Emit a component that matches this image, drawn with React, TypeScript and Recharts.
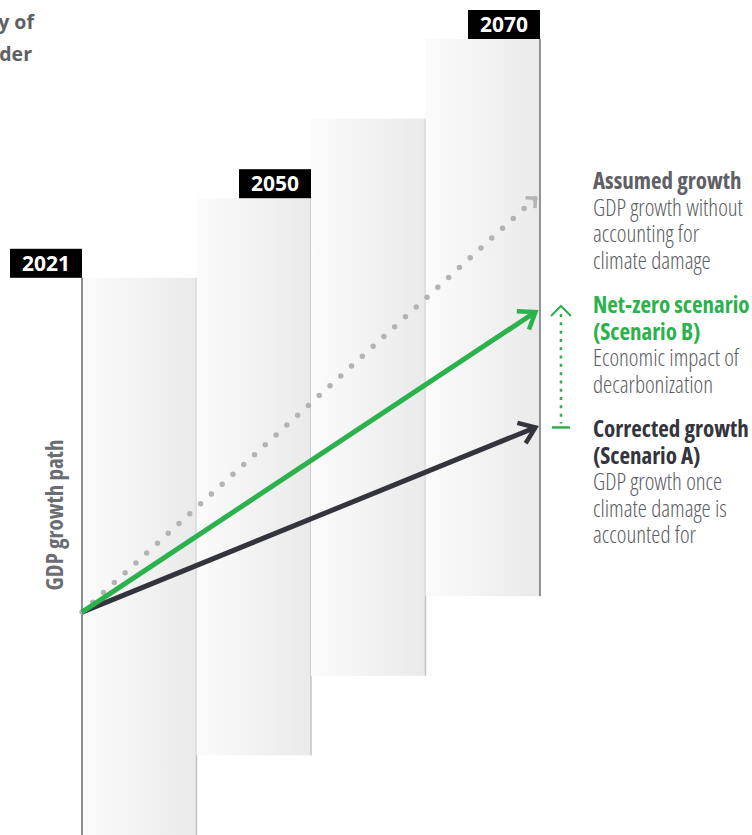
import { ComposedChart, XAxis, YAxis, Line, ReferenceArea, ReferenceDot, ReferenceLine } from "recharts"

// stages along the path: 0 = 2021 ... 4 = 2070
const stages = [0, 3.96]
const assumed = [28, 80]
const netZero = [28, 65.7]
const corrected = [28, 51.2]

// stepped panels: stage span and GDP band
const panelStart = [0, 1, 2, 3]
const panelLow = [0, 10, 20, 30]
const panelHigh = [70, 80, 90, 100]

const yearLabels = ['2021', '2050', '2070']
const yearStage = [0, 2, 4]
const yearLevel = [70, 80, 100]

const gapStage = 4.183

const legendBlocks = [
    { title: ['Assumed growth'], body: ['GDP growth without', 'accounting for', 'climate damage'], color: '#5e6065' },
    { title: ['Net-zero scenario', '(Scenario B)'], body: ['Economic impact of', 'decarbonization'], color: '#2bb24c' },
    { title: ['Corrected growth', '(Scenario A)'], body: ['GDP growth once', 'climate damage is', 'accounted for'], color: '#33343c' },
]
const legendTop = [189, 313, 437]

const data = stages.map((s, i) => ({ stage: s, assumed: assumed[i], netZero: netZero[i], corrected: corrected[i] }))

const condensed = "'Open Sans', 'Noto Sans', sans-serif"

function Panel(props: any) {
    const { x, y, width, height, index } = props
    const edge = index === 3 ? '#707378' : '#c4c4c4'
    return (
        <g>
            <rect x={x} y={y} width={width} height={height} fill="url(#panelGrad)" />
            <line x1={x + width} y1={y} x2={x + width} y2={y + height} stroke={edge} strokeWidth={1.5} />
            {index === 0 && <line x1={x} y1={y} x2={x} y2={y + height} stroke="#676a6f" strokeWidth={1.5} />}
        </g>
    )
}

function YearTag(props: any) {
    const { cx, cy, label } = props
    return (
        <g>
            <rect x={cx - 72} y={cy - 29} width={72} height={29} fill="#000" />
            <text x={cx - 36} y={cy - 7} textAnchor="middle" fill="#fff" fontSize={21} fontWeight={700}
                fontFamily="'Open Sans', sans-serif">{label}</text>
        </g>
    )
}

function GapArrow(props: any) {
    const { x1, y1, y2 } = props
    const top = Math.min(y1, y2)
    const bottom = Math.max(y1, y2)
    return (
        <g stroke="#2bb24c" fill="none">
            <line x1={x1} y1={top + 2} x2={x1} y2={bottom - 4} strokeWidth={2.5} strokeDasharray="3 5.3" />
            <path d={`M ${x1 - 10} ${top + 4} L ${x1} ${top - 6} L ${x1 + 10} ${top + 4}`} strokeWidth={2} />
            <line x1={x1 - 9} y1={bottom} x2={x1 + 9} y2={bottom} strokeWidth={2.5} />
        </g>
    )
}

export default function App() {
    const legend = legendBlocks.map((b, bi) => (
        <text key={bi} x={593} y={legendTop[bi]} fontSize={23} fontFamily={condensed} style={{ fontStretch: '75%' }}>
            {b.title.map((t, ti) => (
                <tspan key={`t${ti}`} x={593} dy={ti === 0 ? 0 : 26.5} fill={b.color} fontWeight={700}>{t}</tspan>
            ))}
            {b.body.map((t, ti) => (
                <tspan key={`b${ti}`} x={593} dy={26.5} fill="#5b5d62" fontWeight={300}>{t}</tspan>
            ))}
        </text>
    ))

    return (
        <div style={{ position: 'absolute', left: 0, top: 0, width: 752, height: 835, overflow: 'hidden', background: '#fff' }}>
            <ComposedChart width={752} height={835} data={data}
                margin={{ top: 39, right: 212, bottom: 0, left: 82 }}>
                <defs>
                    <linearGradient id="panelGrad" x1="0" y1="0" x2="1" y2="0">
                        <stop offset="0%" stopColor="#fbfbfb" />
                        <stop offset="100%" stopColor="#eaeaea" />
                    </linearGradient>
                    <marker id="arrowGreen" markerUnits="userSpaceOnUse" orient="auto" overflow="visible" markerWidth={1} markerHeight={1}>
                        <path d="M -15 -11 L 0 0 L -15 11" fill="none" stroke="#2bb24c" strokeWidth={4.5} />
                    </marker>
                    <marker id="arrowDark" markerUnits="userSpaceOnUse" orient="auto" overflow="visible" markerWidth={1} markerHeight={1}>
                        <path d="M -15 -11 L 0 0 L -15 11" fill="none" stroke="#33343c" strokeWidth={4.5} />
                    </marker>
                    <marker id="arrowGray" markerUnits="userSpaceOnUse" orient="auto" overflow="visible" markerWidth={1} markerHeight={1}>
                        <path d="M -7 -7 L 0 0 L -7 7" fill="none" stroke="#b5b5b5" strokeWidth={3.5} />
                    </marker>
                </defs>
                <XAxis dataKey="stage" type="number" domain={[0, 4]} hide />
                <YAxis type="number" domain={[0, 100]} hide />
                {panelStart.map((s, i) => (
                    <ReferenceArea key={i} x1={s} x2={s + 1} y1={panelLow[i]} y2={panelHigh[i]} ifOverflow="visible"
                        shape={(p: any) => <Panel {...p} index={i} />} />
                ))}
                <Line isAnimationActive={false} dataKey="assumed" stroke="#b3b3b3" strokeWidth={5.5}
                    strokeDasharray="0 14.6" strokeLinecap="round" dot={false} markerEnd="url(#arrowGray)" />
                <Line isAnimationActive={false} dataKey="corrected" stroke="#33343c" strokeWidth={5}
                    dot={false} markerEnd="url(#arrowDark)" />
                <Line isAnimationActive={false} dataKey="netZero" stroke="#2bb24c" strokeWidth={5}
                    dot={false} markerEnd="url(#arrowGreen)" />
                <ReferenceLine ifOverflow="visible" segment={[{ x: gapStage, y: corrected[1] }, { x: gapStage, y: netZero[1] }]}
                    shape={(p: any) => <GapArrow {...p} />} />
                {yearLabels.map((label, i) => (
                    <ReferenceDot key={label} x={yearStage[i]} y={yearLevel[i]} ifOverflow="visible"
                        shape={(p: any) => <YearTag {...p} label={label} />} />
                ))}
                <text x={34} y={29} textAnchor="end" fill="#5e6065" fontSize={19.5} fontWeight={700}
                    fontFamily="'Open Sans', sans-serif">y of</text>
                <text x={32} y={61} textAnchor="end" fill="#5e6065" fontSize={19.5} fontWeight={700}
                    fontFamily="'Open Sans', sans-serif">der</text>
                <text transform="translate(63 515) rotate(-90)" textAnchor="middle" fill="#6a6d72" fontSize={23}
                    fontWeight={700} fontFamily={condensed} style={{ fontStretch: '75%' }}>GDP growth path</text>
                {legend}
            </ComposedChart>
        </div>
    )
}
